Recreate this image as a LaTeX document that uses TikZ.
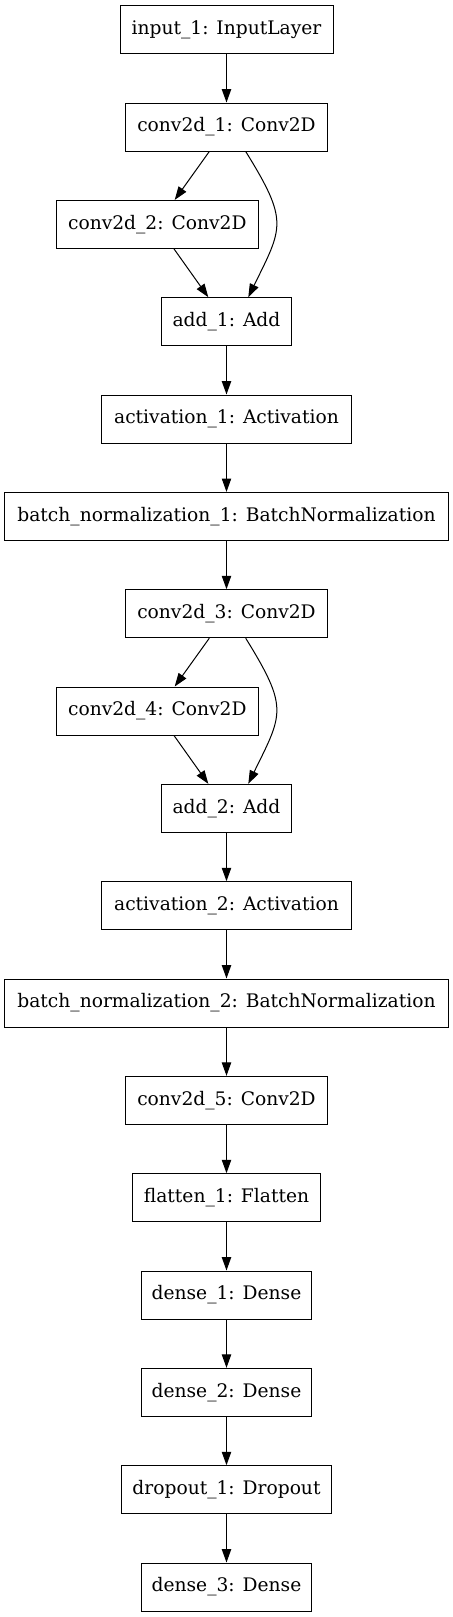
\documentclass[tikz,border=0pt]{standalone}
\usepackage{fontspec}
\setmainfont{DejaVu Serif}
\usepackage{tikz}
\usetikzlibrary{arrows.meta,calc}

\begin{document}
\begin{tikzpicture}[x=0.75pt,y=-0.75pt,
  layer/.style={draw,line width=0.75pt,rectangle,minimum height=36pt,
    inner xsep=4pt,minimum width=#1,font=\fontsize{14}{16}\selectfont},
  layer/.default=151.2pt,
  flow/.style={-{Triangle[length=10pt,width=7pt]},line width=0.75pt}]
  \useasboundingbox (0,0) rectangle (453,1617);
  % Spalte der Schichten
  \def\cx{226.5}
  \def\bx{157.3}
  \node[layer=159.75pt] (in1) at (\cx,29.7)   {input\_1: InputLayer};
  \node[layer]          (conv1)  at (\cx,127.0)  {conv2d\_1: Conv2D};
  \node[layer]          (conv2)  at (\bx,224.4)  {conv2d\_2: Conv2D};
  \node[layer=97pt]     (add1)   at (\cx,321.7)  {add\_1: Add};
  \node[layer=187.2pt]  (act1)   at (\cx,419.0)  {activation\_1: Activation};
  \node[layer=332.7pt]  (bn1)    at (\cx,516.4)  {batch\_normalization\_1: BatchNormalization};
  \node[layer]          (conv3)  at (\cx,613.7)  {conv2d\_3: Conv2D};
  \node[layer]          (conv4)  at (\bx,711.0)  {conv2d\_4: Conv2D};
  \node[layer=97pt]     (add2)   at (\cx,808.3)  {add\_2: Add};
  \node[layer=187.2pt]  (act2)   at (\cx,905.7)  {activation\_2: Activation};
  \node[layer=332.7pt]  (bn2)    at (\cx,1003.0) {batch\_normalization\_2: BatchNormalization};
  \node[layer]          (conv5)  at (\cx,1100.3) {conv2d\_5: Conv2D};
  \node[layer=140.5pt]  (flat1)  at (\cx,1197.7) {flatten\_1: Flatten};
  \node[layer=128pt]    (dense1) at (\cx,1295.0) {dense\_1: Dense};
  \node[layer=128pt]    (dense2) at (\cx,1392.3) {dense\_2: Dense};
  \node[layer=157pt]    (drop1)  at (\cx,1489.7) {dropout\_1: Dropout};
  \node[layer=128pt]    (dense3) at (\cx,1587.0) {dense\_3: Dense};
  % gerade Verbindungen
  \foreach \a/\b in {in1/conv1,add1/act1,act1/bn1,bn1/conv3,add2/act2,act2/bn2,
    bn2/conv5,conv5/flat1,flat1/dense1,dense1/dense2,dense2/drop1,drop1/dense3}
    \draw[flow] (\a) -- (\b);
  % Residual-Bloecke
  \foreach \c/\d/\s in {conv1/conv2/add1,conv3/conv4/add2}{
    \draw[flow] ($(\c.south)+(-17.2,0)$) -- ($(\d.north)+(17.4,0)$);
    \draw[flow] ($(\d.south)+(16.7,0)$) -- ($(\s.north)+(-18.2,0)$);
    \draw[flow] ($(\c.south)+(19.2,0)$) .. controls +(43.4,70) and +(34.3,-70) .. ($(\s.north)+(21.8,0)$);
  }
\end{tikzpicture}
\end{document}
